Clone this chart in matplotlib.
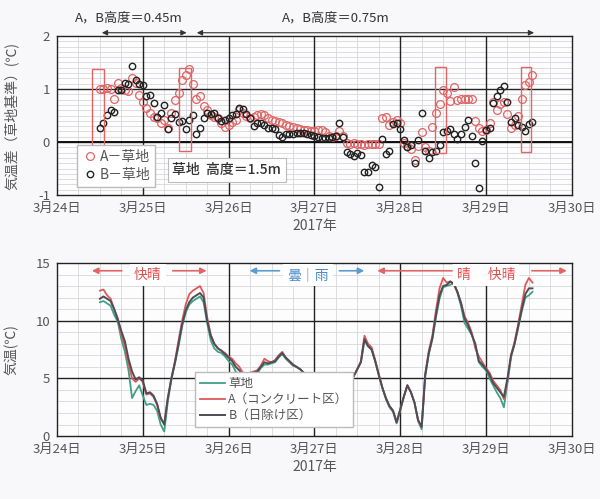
import numpy as np
import pandas as pd
import matplotlib
matplotlib.use('Agg')
import matplotlib.pyplot as plt
import matplotlib.dates as mdates
from matplotlib.patches import Rectangle
from datetime import datetime, timedelta

plt.rcParams['font.family'] = ['Noto Sans CJK JP', 'DejaVu Sans']

# ---------------- data ----------------
start = '2017-03-24 12:00'
end = '2017-03-29 13:00'
times = pd.date_range(start, end, freq='h')

# upper chart: temperature difference vs grass (hourly)
diff_A = [1.00, 1.00, 1.01, 1.00, 0.81, 1.12, 1.01, 0.98, 0.96, 1.20,
          1.11, 0.89, 0.75, 0.65, 0.55, 0.48, 0.45, 0.35, 0.42, 0.27,
          0.55, 0.79, 0.92, 1.17, 1.26, 1.38, 1.09, 0.82, 0.87, 0.67,
          0.60, 0.51, 0.48, 0.45, 0.35, 0.29, 0.32, 0.38, 0.42, 0.60,
          0.55, 0.50, 0.45, 0.48, 0.51, 0.52, 0.51, 0.45, 0.42, 0.40,
          0.38, 0.36, 0.33, 0.31, 0.29, 0.26, 0.24, 0.23, 0.22, 0.20,
          0.20, 0.22, 0.23, 0.18, 0.12, 0.10, 0.12, 0.20, 0.12, -0.02,
          -0.03, -0.02, -0.03, -0.03, -0.05, -0.03, -0.04, -0.04, -0.03, 0.45,
          0.47, 0.33, 0.38, 0.41, 0.35, -0.02, -0.07, -0.13, -0.33, -0.08,
          0.19, -0.09, -0.16, 0.28, 0.55, 0.72, 0.98, 0.93, 0.78, 1.04,
          0.80, 0.81, 0.82, 0.81, 0.81, 0.39, 0.26, 0.20, 0.22, 0.35,
          0.76, 0.60, 0.72, 0.76, 0.53, 0.26, 0.33, 0.50, 0.81, 1.08,
          1.14, 1.26]
diff_B = [0.27, 0.35, 0.51, 0.60, 0.56, 0.99, 0.99, 1.11, 1.10, 1.44,
          1.17, 1.09, 1.08, 0.86, 0.89, 0.73, 0.48, 0.54, 0.70, 0.25,
          0.46, 0.52, 0.38, 0.40, 0.25, 0.42, 0.51, 0.15, 0.27, 0.46,
          0.54, 0.52, 0.54, 0.45, 0.40, 0.41, 0.46, 0.51, 0.52, 0.64,
          0.63, 0.52, 0.46, 0.30, 0.35, 0.36, 0.33, 0.27, 0.26, 0.24,
          0.14, 0.09, 0.16, 0.16, 0.16, 0.17, 0.17, 0.17, 0.16, 0.14,
          0.12, 0.10, 0.08, 0.08, 0.07, 0.10, 0.11, 0.35, 0.10, -0.18,
          -0.23, -0.26, -0.21, -0.25, -0.57, -0.57, -0.43, -0.47, -0.84, 0.05,
          -0.23, -0.16, 0.34, 0.36, 0.24, 0.04, -0.09, -0.06, -0.40, 0.04,
          0.55, -0.17, -0.31, -0.18, -0.16, -0.06, 0.19, 0.20, 0.25, 0.15,
          0.05, 0.15, 0.29, 0.41, 0.12, -0.40, -0.86, 0.02, 0.23, 0.27,
          0.74, 0.86, 0.98, 1.06, 0.76, 0.38, 0.45, 0.33, 0.28, 0.21,
          0.34, 0.38]

# lower chart: air temperature (hourly)
temp_grass = [11.6, 11.7, 11.5, 11.3, 10.5, 9.9, 8.4, 7.3, 5.7, 3.3,
              3.9, 4.4, 3.5, 2.7, 2.8, 2.7, 2.2, 1.0, 0.4, 3.0,
              4.9, 6.3, 7.8, 9.5, 10.7, 11.4, 11.7, 11.9, 12.1, 11.6,
              9.8, 8.3, 7.6, 7.3, 7.2, 6.9, 6.5, 6.2, 5.6, 5.3,
              5.0, 4.8, 4.7, 5.2, 5.4, 5.9, 6.2, 6.2, 6.3, 6.4,
              6.8, 7.1, 6.7, 6.4, 6.1, 6.0, 5.8, 5.5, 5.3, 5.2,
              5.1, 4.9, 4.8, 4.4, 3.9, 3.6, 3.3, 1.0, 2.6, 4.1,
              4.6, 5.2, 5.8, 6.4, 8.3, 7.8, 7.5, 6.5, 5.3, 4.2,
              3.2, 2.5, 2.1, 1.1, 2.2, 3.4, 4.4, 3.8, 2.9, 1.3,
              0.6, 5.2, 7.1, 8.4, 10.3, 11.9, 12.9, 13.0, 13.1, 13.3,
              12.4, 11.3, 9.8, 9.3, 8.8, 7.9, 6.4, 6.0, 5.7, 5.0,
              4.4, 3.8, 3.3, 2.5, 4.6, 6.8, 8.0, 9.4, 10.8, 12.0, 12.2, 12.5]
temp_A = [12.6, 12.7, 12.2, 11.9, 11.0, 10.2, 8.8, 7.8, 6.3, 5.0,
          4.7, 5.0, 4.7, 3.6, 3.7, 3.4, 2.7, 1.5, 1.1, 3.3,
          5.0, 6.5, 8.3, 10.0, 11.4, 12.3, 12.6, 12.8, 13.0, 12.4,
          10.3, 8.8, 8.0, 7.6, 7.4, 7.2, 6.9, 6.7, 6.3, 6.0,
          5.5, 5.3, 5.5, 5.6, 5.7, 6.1, 6.7, 6.5, 6.4, 6.6,
          7.0, 7.3, 6.8, 6.5, 6.2, 6.0, 5.8, 5.5, 5.3, 5.2,
          5.1, 4.9, 4.8, 4.4, 3.9, 3.6, 3.3, 1.0, 2.6, 4.1,
          4.6, 5.2, 5.8, 6.5, 8.7, 8.0, 7.7, 6.6, 5.4, 4.2,
          3.3, 2.6, 2.2, 1.2, 2.3, 3.4, 4.4, 3.8, 2.9, 1.4,
          0.8, 5.4, 7.4, 8.7, 10.9, 12.8, 13.7, 13.3, 13.4, 13.1,
          12.5, 11.6, 10.4, 9.8, 9.0, 7.6, 6.9, 6.4, 5.9, 5.5,
          4.8, 4.4, 4.0, 3.2, 4.8, 7.0, 8.2, 9.7, 11.4, 13.1, 13.7, 13.3]
temp_B = [11.9, 12.1, 11.9, 11.7, 11.0, 10.1, 9.1, 8.2, 6.7, 5.6,
          4.9, 5.1, 4.8, 3.7, 3.8, 3.5, 2.8, 1.6, 1.0, 3.3,
          5.0, 6.4, 8.0, 9.7, 10.9, 11.6, 12.0, 12.2, 12.4, 12.0,
          10.0, 8.7, 8.0, 7.6, 7.4, 7.1, 6.8, 6.5, 6.0, 5.7,
          5.3, 5.2, 5.4, 5.5, 5.6, 6.0, 6.4, 6.3, 6.4, 6.5,
          6.9, 7.2, 6.8, 6.5, 6.2, 6.0, 5.8, 5.5, 5.3, 5.2,
          5.1, 4.9, 4.8, 4.4, 3.9, 3.6, 3.3, 1.0, 2.6, 4.1,
          4.6, 5.2, 5.8, 6.4, 8.4, 7.8, 7.5, 6.5, 5.3, 4.2,
          3.3, 2.6, 2.2, 1.2, 2.3, 3.4, 4.4, 3.8, 2.9, 1.4,
          0.8, 5.3, 7.2, 8.5, 10.5, 12.2, 13.0, 13.1, 13.4, 13.2,
          12.5, 11.5, 10.2, 9.6, 8.8, 8.0, 6.5, 6.2, 5.8, 5.3,
          4.6, 4.2, 3.8, 3.4, 5.0, 7.0, 8.0, 9.5, 11.0, 12.3, 12.8, 12.8]

tick_dates = ['2017-03-24', '2017-03-25', '2017-03-26', '2017-03-27',
              '2017-03-28', '2017-03-29', '2017-03-30']
tick_labels = ['3月24日', '3月25日', '3月26日', '3月27日', '3月28日', '3月29日', '3月30日']

legend_top = ['A－草地', 'B－草地']
legend_bottom = ['草地', 'A（コンクリート区）', 'B（日除け区）']

# ---------------- style ----------------
RED = '#e26464'
BLACK = '#222222'
GREEN = '#3fa083'
RED_LINE = '#e05858'
DARK = '#4d4d58'
BLUE = '#5b9bd0'
TXT = '#555555'

fig = plt.figure(figsize=(6.0, 4.99), dpi=100, facecolor='#f8f8fa')
ax1 = fig.add_axes([0.095, 0.609, 0.858, 0.319])
ax2 = fig.add_axes([0.095, 0.126, 0.858, 0.347])

base = datetime(2017, 3, 24)
def dnum(days):
    return mdates.date2num(base + timedelta(days=days))

tnum = mdates.date2num(times.to_pydatetime())
tick_nums = [mdates.date2num(pd.Timestamp(d).to_pydatetime()) for d in tick_dates]

def style_axis(ax, ylim, ymajor, yminor):
    ax.set_facecolor('#fdfdfd')
    ax.set_xlim(tick_nums[0], tick_nums[-1])
    ax.set_ylim(*ylim)
    ax.set_xticks(tick_nums)
    ax.set_xticklabels(tick_labels, fontsize=9.5, color=TXT)
    ax.set_xticks([dnum(d + h / 24) for d in range(6) for h in (6, 12, 18)], minor=True)
    ax.set_yticks(ymajor)
    ax.set_yticks(yminor, minor=True)
    ax.tick_params(which='both', length=0, labelsize=9.5, labelcolor=TXT, pad=5)
    ax.grid(which='minor', color='#d6d6dc', lw=0.6)
    ax.grid(which='major', visible=False)
    ax.set_axisbelow(True)
    for xv in tick_nums[1:-1]:
        ax.axvline(xv, color='#222222', lw=1.0, zorder=1)
    for yv in ymajor[1:-1]:
        ax.axhline(yv, color='#222222', lw=1.0, zorder=1)
    for s in ax.spines.values():
        s.set_color('#222222')
        s.set_linewidth(1.0)

# ---------------- top chart ----------------
style_axis(ax1, (-1, 2), [-1, 0, 1, 2], np.arange(-1, 2.001, 0.1))
ax1.set_yticklabels(['-1', '0', '1', '2'])
ax1.axhline(0, color='#111111', lw=1.4, zorder=1)

ax1.plot(tnum, diff_A, 'o', ms=5.6, mfc='none', mec=RED, mew=0.9, zorder=3, label=legend_top[0])
ax1.plot(tnum, diff_B, 'o', ms=4.6, mfc='none', mec=BLACK, mew=1.0, zorder=4, label=legend_top[1])

boxes = [(0.407, 0.547, -0.17, 1.38), (1.42, 1.56, -0.17, 1.40),
         (4.40, 4.53, -0.20, 1.42), (5.41, 5.53, -0.19, 1.42)]
for x0, x1, y0, y1 in boxes:
    ax1.add_patch(Rectangle((dnum(x0), y0), dnum(x1) - dnum(x0), y1 - y0,
                            fill=False, ec=RED, lw=1.0, zorder=5))

leg1 = ax1.legend(loc='lower left', bbox_to_anchor=(0.025, 0.01), fontsize=10,
                  handletextpad=0.1, handlelength=1.2, labelspacing=0.25,
                  borderpad=0.35, fancybox=False, framealpha=1, edgecolor='#bbbbbb')
for t in leg1.get_texts():
    t.set_color(TXT)

ax1.text(0.33, 0.16, '草地  高度＝1.5m', transform=ax1.transAxes, fontsize=10,
         ha='center', va='center', color='#333333', fontweight='medium',
         bbox=dict(boxstyle='square,pad=0.35', fc='white', ec='#bbbbbb', lw=0.8), zorder=6)

tr1 = ax1.get_xaxis_transform()
for x0, x1 in [(0.523, 1.51), (1.63, 5.56)]:
    ax1.annotate('', xy=(dnum(x0), 1.02), xytext=(dnum(x1), 1.02), xycoords=tr1,
                 textcoords=tr1, annotation_clip=False,
                 arrowprops=dict(arrowstyle='<|-|>', color='#333333', lw=0.8,
                                 mutation_scale=8, shrinkA=0, shrinkB=0))
ax1.text(dnum(0.84), 1.07, 'A，B高度＝0.45m', transform=tr1, ha='center', va='bottom',
         fontsize=9.5, color='#333333')
ax1.text(dnum(3.245), 1.07, 'A，B高度＝0.75m', transform=tr1, ha='center', va='bottom',
         fontsize=9.5, color='#333333')

ax1.set_ylabel('気温差（草地基準）(℃)', fontsize=10, color=TXT)
ax1.yaxis.set_label_coords(-0.075, 0.5)
ax1.set_xlabel('2017年', fontsize=10, color=TXT, labelpad=3)

# ---------------- bottom chart ----------------
style_axis(ax2, (0, 15), [0, 5, 10, 15], np.arange(0, 15.01, 1))
ax2.set_yticklabels(['0', '5', '10', '15'])

ax2.plot(tnum, temp_grass, color=GREEN, lw=1.3, zorder=3, label=legend_bottom[0])
ax2.plot(tnum, temp_A, color=RED_LINE, lw=1.3, zorder=4, label=legend_bottom[1])
ax2.plot(tnum, temp_B, color=DARK, lw=1.4, zorder=5, label=legend_bottom[2])

handles, labels = ax2.get_legend_handles_labels()
leg2 = ax2.legend(handles, labels, loc='lower left', bbox_to_anchor=(0.255, 0.015),
                  fontsize=9, handlelength=2.0, handletextpad=0.3,
                  labelspacing=0.25, borderpad=0.4, fancybox=False, framealpha=1,
                  edgecolor='#bbbbbb')
leg2.set_zorder(8)
for t in leg2.get_texts():
    t.set_color(TXT)

tr2 = ax2.get_xaxis_transform()
def arrow(ax, tr, xhead, xtail, y, color):
    ax.annotate('', xy=(dnum(xhead), y), xytext=(dnum(xtail), y), xycoords=tr,
                textcoords=tr, arrowprops=dict(arrowstyle='-|>', color=color, lw=1.2,
                                               mutation_scale=9, shrinkA=0, shrinkB=0))

yarr = 0.955
arrow(ax2, tr2, 0.407, 0.756, yarr, RED)
arrow(ax2, tr2, 1.744, 1.349, yarr, RED)
arrow(ax2, tr2, 2.244, 2.593, yarr, BLUE)
arrow(ax2, tr2, 3.581, 3.291, yarr, BLUE)
arrow(ax2, tr2, 3.733, 4.605, yarr, RED)
arrow(ax2, tr2, 5.942, 5.535, yarr, RED)

bb = dict(boxstyle='square,pad=0.3', fc='white', ec='none')
ax2.text(dnum(1.058), 0.93, '快晴', transform=tr2, ha='center', va='center',
         fontsize=10, color='#e05050', bbox=bb, zorder=7)
ax2.text(dnum(2.93), 0.93, '曇｜雨', transform=tr2, ha='center', va='center',
         fontsize=10, color='#4a8cc8', bbox=bb, zorder=7)
ax2.text(dnum(5.00), 0.93, '晴　 快晴', transform=tr2, ha='center', va='center',
         fontsize=10, color='#e05050', bbox=bb, zorder=7)

ax2.set_ylabel('気温(℃)', fontsize=10, color=TXT)
ax2.yaxis.set_label_coords(-0.075, 0.5)
ax2.set_xlabel('2017年', fontsize=10, color=TXT, labelpad=3)

fig.savefig('out.png', dpi=100, facecolor=fig.get_facecolor())
